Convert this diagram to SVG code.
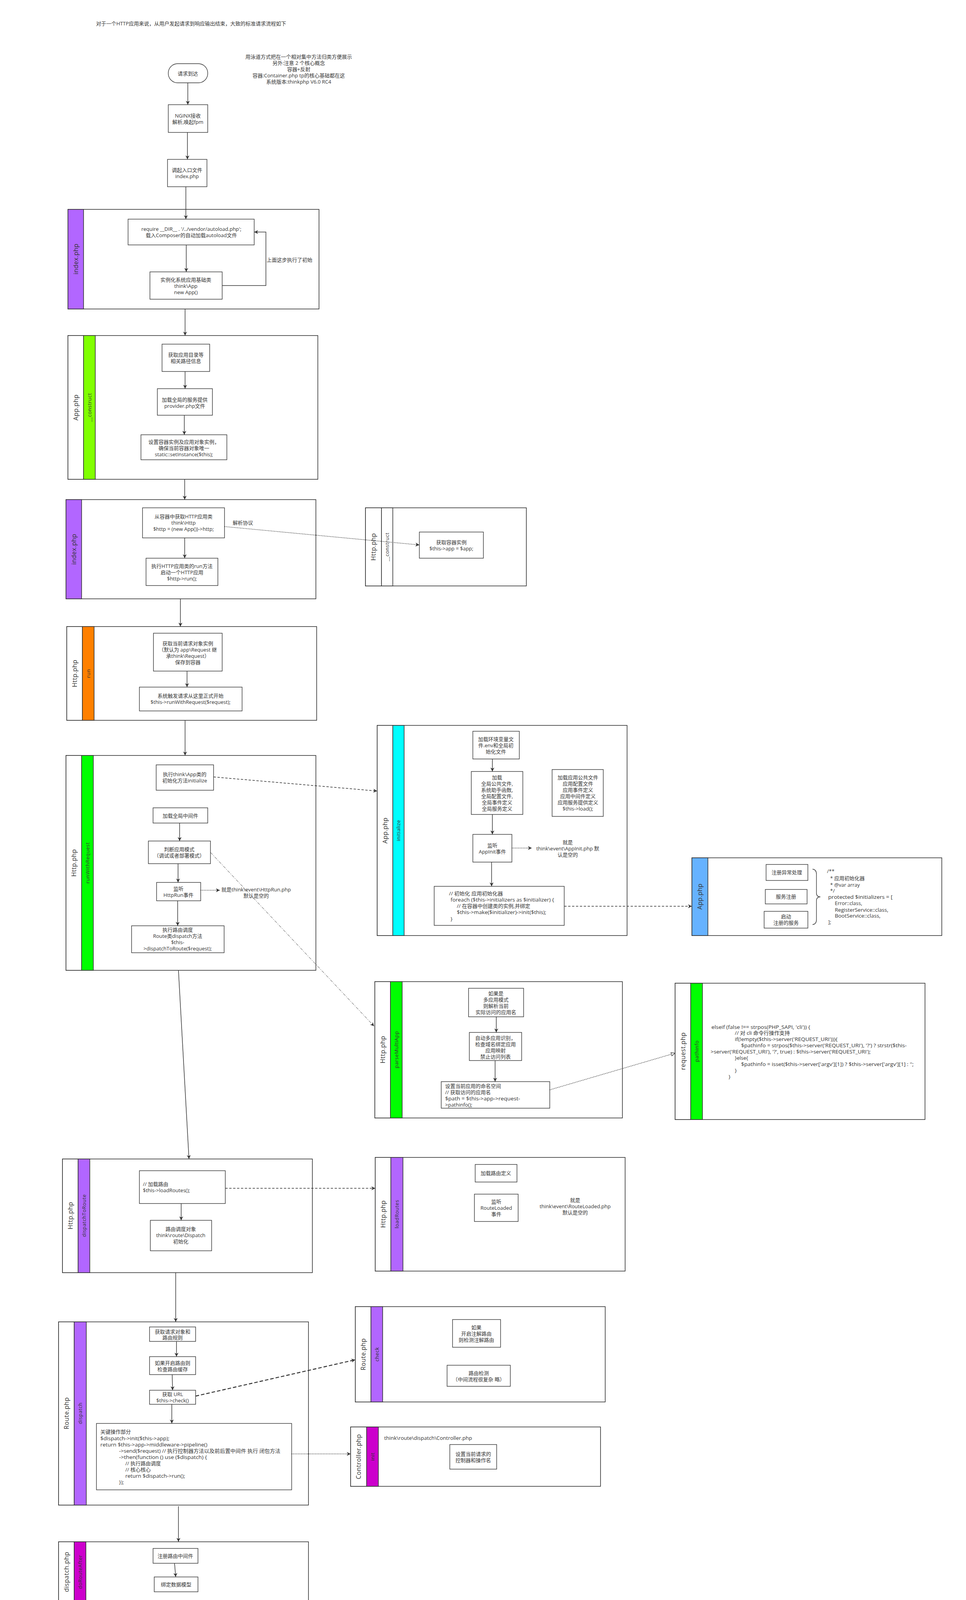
<svg xmlns="http://www.w3.org/2000/svg" width="2474" height="5723" viewBox="0 0 2474 5723">
<style>
.bg{fill:#ffffff}
.pool{fill:#ffffff;stroke:#333333;stroke-width:1.6}
.hd{stroke:#333333;stroke-width:1.6}
.box{fill:#ffffff;stroke:#333333;stroke-width:1.4}
.t{font-family:"Open Sans","Noto Sans CJK SC",sans-serif;font-size:13px;fill:#333333;text-anchor:middle;dominant-baseline:central}
.tl{font-family:"Open Sans","Noto Sans CJK SC",sans-serif;font-size:13px;fill:#333333;text-anchor:start;dominant-baseline:central}
.ph{font-family:"Open Sans","Noto Sans CJK SC",sans-serif;font-size:16px;fill:#333333;text-anchor:middle;dominant-baseline:central;letter-spacing:0.5px}
.ln{font-family:"Open Sans","Noto Sans CJK SC",sans-serif;font-size:13px;fill:#333333;text-anchor:middle;dominant-baseline:central;letter-spacing:0.5px}
.red{fill:#ff0000}
.e{fill:none;stroke:#333333;stroke-width:1.5}
.dash{stroke-dasharray:6 4}
.dot{stroke-dasharray:2 2}
.dd{stroke-dasharray:8 3 2 3;stroke-width:1}
.bold{stroke-width:2.4;stroke-dasharray:9 5}
</style>
<defs>
<marker id="arr" viewBox="0 0 10 10" refX="10" refY="5" markerWidth="10" markerHeight="10" markerUnits="userSpaceOnUse" orient="auto">
<path d="M0,0 L10,5 L0,10 L3,5 z" fill="#333333"/>
</marker>
<marker id="open" viewBox="0 0 10 10" refX="10" refY="5" markerWidth="11" markerHeight="11" markerUnits="userSpaceOnUse" orient="auto">
<path d="M1,1 L10,5 L1,9 z" fill="#ffffff" stroke="#333333" stroke-width="1.2"/>
</marker>
</defs>
<rect class="bg" x="0" y="0" width="2474" height="5723"/>

<g id="title">
<text class="tl" x="246" y="60">对于一个HTTP应用来说，从用户发起请求到响应输出结束，大致的标准请求流程如下</text>
</g>
<g id="note">
<text class="t"><tspan x="765" y="145">用泳道方式把在一个相对集中方法归类方便展示</tspan><tspan x="765" y="161">另外:注意 2 个核心概念</tspan><tspan x="765" y="177">容器+反射</tspan><tspan x="765" y="193">容器:Container.php tp的核心基础都在这</tspan><tspan x="765" y="209">系统版本:thinkphp V6.0 RC4</tspan></text>
</g>

<g id="start">
<rect class="box" x="431" y="163" width="101" height="49" rx="24" ry="24"/>
<text class="t" x="481" y="188">请求到达</text>
</g>
<g id="nginx">
<rect class="box" x="431" y="268" width="101" height="71"/>
<text class="t"><tspan x="481" y="296">NGINX接收</tspan><tspan x="481" y="312">解析,唤起fpm</tspan></text>
</g>
<g id="entry">
<rect class="box" x="429" y="408" width="101" height="70"/>
<text class="t"><tspan x="479" y="435">调起入口文件</tspan><tspan x="479" y="451">index.php</tspan></text>
</g>

<g id="pool-index-1">
<rect class="pool" x="174" y="536" width="643" height="255"/>
<rect class="hd" x="174" y="536" width="40" height="255" fill="#B266FF"/>
<text class="ph" transform="translate(194,663) rotate(-90)">index.php</text>
</g>
<g id="require">
<rect class="box" x="328" y="561" width="323" height="66"/>
<text class="t"><tspan x="490" y="586">require __DIR__ . '/../vendor/autoload.php';</tspan><tspan x="490" y="602">载入Composer的自动加载autoload文件</tspan></text>
</g>
<g id="newapp">
<rect class="box" x="384" y="696" width="185" height="70"/>
<text class="t"><tspan x="476" y="716">实例化系统应用基础类</tspan><tspan x="476" y="732">think\App</tspan><tspan x="476" y="748">new App()</tspan></text>
</g>

<g id="pool-app-construct">
<rect class="pool" x="174" y="859" width="640" height="368"/>
<rect class="hd" x="174" y="859" width="40" height="368" fill="#ffffff"/>
<rect class="hd" x="214" y="859" width="30" height="368" fill="#80FF00"/>
<text class="ph" transform="translate(194,1043) rotate(-90)">App.php</text>
<text class="ln" transform="translate(229,1043) rotate(-90)">__construct</text>
</g>
<g id="app-path">
<rect class="box" x="415" y="881" width="122" height="70"/>
<text class="t"><tspan x="476" y="908">获取应用目录等</tspan><tspan x="476" y="924">相关路径信息</tspan></text>
</g>
<g id="app-provider">
<rect class="box" x="403" y="995" width="141" height="68"/>
<text class="t"><tspan x="473" y="1023">加载全局的服务提供</tspan><tspan x="473" y="1039">provider.php文件</tspan></text>
</g>
<g id="app-instance">
<rect class="box" x="361" y="1113" width="220" height="64"/>
<text class="t"><tspan x="471" y="1131">设置容器实例及应用对象实例，</tspan><tspan x="471" y="1147">确保当前容器对象唯一</tspan><tspan x="471" y="1163">static::setInstance($this);</tspan></text>
</g>

<g id="pool-index-2">
<rect class="pool" x="169" y="1279" width="640" height="254"/>
<rect class="hd" x="169" y="1279" width="40" height="254" fill="#B266FF"/>
<text class="ph" transform="translate(189,1406) rotate(-90)">index.php</text>
</g>
<g id="get-http">
<rect class="box" x="365" y="1300" width="210" height="77"/>
<text class="t"><tspan x="470" y="1322">从容器中获取HTTP应用类</tspan><tspan x="470" y="1338">think\Http</tspan><tspan x="470" y="1354">$http = (new App())-&gt;http;</tspan></text>
</g>
<g id="http-run-call">
<rect class="box" x="374" y="1429" width="184" height="70"/>
<text class="t"><tspan x="466" y="1449">执行HTTP应用类的run方法</tspan><tspan x="466" y="1465">启动一个HTTP应用</tspan><tspan x="466" y="1481">$http-&gt;run();</tspan></text>
</g>

<g id="pool-http-construct">
<rect class="pool" x="936" y="1300" width="412" height="200"/>
<rect class="hd" x="936" y="1300" width="41" height="200" fill="#ffffff"/>
<rect class="hd" x="977" y="1300" width="29" height="200" fill="#ffffff"/>
<text class="ph" transform="translate(956,1400) rotate(-90)">Http.php</text>
<text class="ln" transform="translate(991,1400) rotate(-90)">__construct</text>
</g>
<g id="http-app">
<rect class="box" x="1074" y="1362" width="164" height="67"/>
<text class="t"><tspan x="1156" y="1388">获取容器实例</tspan><tspan x="1156" y="1404">$this-&gt;app   = $app;</tspan></text>
</g>

<g id="pool-http-run">
<rect class="pool" x="171" y="1604" width="640" height="240"/>
<rect class="hd" x="171" y="1604" width="40" height="240" fill="#ffffff"/>
<rect class="hd" x="211" y="1604" width="30" height="240" fill="#FF8000"/>
<text class="ph" transform="translate(191,1724) rotate(-90)">Http.php</text>
<text class="ln" transform="translate(226,1724) rotate(-90)">run</text>
</g>
<g id="get-request">
<rect class="box" x="393" y="1621" width="176" height="97"/>
<text class="t"><tspan x="481" y="1647">获取当前请求对象实例</tspan><tspan x="481" y="1663">（默认为 app\Request 继</tspan><tspan x="481" y="1679">承think\Request）</tspan><tspan x="481" y="1695">保存到容器</tspan></text>
</g>
<g id="run-with-request">
<rect class="box" x="357" y="1759" width="263" height="61"/>
<text class="t"><tspan x="488" y="1781">系统触发请求从这里正式开始</tspan><tspan x="488" y="1797">$this-&gt;runWithRequest($request);</tspan></text>
</g>

<g id="pool-http-runwithrequest">
<rect class="pool" x="169" y="1934" width="640" height="550"/>
<rect class="hd" x="169" y="1934" width="40" height="550" fill="#ffffff"/>
<rect class="hd" x="209" y="1934" width="30" height="550" fill="#00FF00"/>
<text class="ph" transform="translate(189,2209) rotate(-90)">Http.php</text>
<text class="ln" transform="translate(224,2209) rotate(-90)">runWithRequest</text>
</g>
<g id="app-initialize-call">
<rect class="box" x="400" y="1958" width="147" height="65"/>
<text class="t"><tspan x="473" y="1982">执行think\App类的</tspan><tspan x="473" y="1998">初始化方法initialize</tspan></text>
</g>
<g id="load-middleware">
<rect class="box" x="392" y="2068" width="140" height="39"/>
<text class="t" x="462" y="2088">加载全局中间件</text>
</g>
<g id="app-mode">
<rect class="box" x="380" y="2153" width="159" height="58"/>
<text class="t"><tspan x="459" y="2174">判断应用模式</tspan><tspan x="459" y="2190">（调试或者部署模式）</tspan></text>
</g>
<g id="httprun-event">
<rect class="box" x="401" y="2259" width="113" height="47"/>
<text class="t"><tspan x="457" y="2275">监听</tspan><tspan x="457" y="2291">HttpRun事件</tspan></text>
</g>
<g id="httprun-note">
<text class="t"><tspan x="656" y="2277">就是think\event\HttpRun.php</tspan><tspan x="656" y="2293">默认是空的</tspan></text>
</g>
<g id="dispatch-to-route-call">
<rect class="box" x="337" y="2370" width="237" height="69"/>
<text class="t"><tspan x="455" y="2380">执行路由调度</tspan><tspan x="455" y="2396">Route类dispatch方法</tspan><tspan x="455" y="2412">$this-</tspan><tspan x="455" y="2428">&gt;dispatchToRoute($request);</tspan></text>
</g>

<g id="pool-app-initialize">
<rect class="pool" x="966" y="1857" width="640" height="538"/>
<rect class="hd" x="966" y="1857" width="40" height="538" fill="#ffffff"/>
<rect class="hd" x="1006" y="1857" width="29" height="538" fill="#00FFFF"/>
<text class="ph" transform="translate(986,2126) rotate(-90)">App.php</text>
<text class="ln" transform="translate(1020,2126) rotate(-90)">initialize</text>
</g>
<g id="load-env">
<rect class="box" x="1211" y="1872" width="119" height="71"/>
<text class="t"><tspan x="1270" y="1892">加载环境变量文</tspan><tspan x="1270" y="1908">件.env和全局初</tspan><tspan x="1270" y="1924">始化文件</tspan></text>
</g>
<g id="load-global">
<rect class="box" x="1207" y="1975" width="132" height="110"/>
<text class="t"><tspan x="1273" y="1990">加载</tspan><tspan x="1273" y="2006">全局公共文件,</tspan><tspan x="1273" y="2022">系统助手函数,</tspan><tspan x="1273" y="2038">全局配置文件,</tspan><tspan x="1273" y="2054">全局事件定义</tspan><tspan x="1273" y="2070">全局服务定义</tspan></text>
</g>
<g id="load-app">
<rect class="box" x="1414" y="1970" width="131" height="120"/>
<text class="t"><tspan x="1480" y="1990">加载应用公共文件</tspan><tspan x="1480" y="2006">应用配置文件</tspan><tspan x="1480" y="2022">应用事件定义</tspan><tspan x="1480" y="2038">应用中间件定义</tspan><tspan x="1480" y="2054">应用服务提供定义</tspan><tspan x="1480" y="2070">$this-&gt;load();</tspan></text>
</g>
<g id="appinit-event">
<rect class="box" x="1211" y="2136" width="100" height="71"/>
<text class="t"><tspan x="1261" y="2164">监听</tspan><tspan x="1261" y="2180">AppInit事件</tspan></text>
</g>
<g id="appinit-note">
<text class="t"><tspan x="1454" y="2156">就是</tspan><tspan x="1454" y="2172">think\event\AppInit.php 默</tspan><tspan x="1454" y="2188">认是空的</tspan></text>
</g>
<g id="initializers">
<rect class="box" x="1112" y="2269" width="333" height="100"/>
<text class="tl"><tspan x="1150" y="2287" textLength="138" lengthAdjust="spacingAndGlyphs">// 初始化 应用初始化器</tspan><tspan x="1154" y="2303" textLength="265" lengthAdjust="spacingAndGlyphs">foreach ($this-&gt;initializers as $initializer) {</tspan><tspan x="1170" y="2319" textLength="188" lengthAdjust="spacingAndGlyphs">// 在容器中创建类的实例,并绑定</tspan><tspan x="1170" y="2335" textLength="229" lengthAdjust="spacingAndGlyphs">$this-&gt;make($initializer)-&gt;init($this);</tspan><tspan x="1154" y="2352">}</tspan></text>
</g>

<g id="pool-app-services">
<rect class="pool" x="1772" y="2196" width="640" height="199"/>
<rect class="hd" x="1772" y="2196" width="41" height="199" fill="#66B2FF"/>
<text class="ph" transform="translate(1792,2295) rotate(-90)">App.php</text>
</g>
<g id="svc-error">
<rect class="box" x="1962" y="2213" width="107" height="41"/>
<text class="t" x="2015" y="2233">注册异常处理</text>
</g>
<g id="svc-register">
<rect class="box" x="1960" y="2277" width="107" height="37"/>
<text class="t" x="2013" y="2295">服务注册</text>
</g>
<g id="svc-boot">
<rect class="box" x="1957" y="2333" width="112" height="43"/>
<text class="t"><tspan x="2013" y="2346">启动</tspan><tspan x="2013" y="2362">注册的服务</tspan></text>
</g>
<g id="svc-brace">
<path d="M2081,2225 Q2091,2226 2091,2238 L2091,2286 Q2091,2296 2101,2296 Q2091,2296 2091,2306 L2091,2354 Q2091,2366 2081,2367" fill="none" stroke="#333333" stroke-width="1.4"/>
</g>
<g id="svc-code">
<text class="tl"><tspan x="2118" y="2230">/**</tspan><tspan x="2126" y="2248">* 应用初始化器</tspan><tspan x="2126" y="2265" textLength="76" lengthAdjust="spacingAndGlyphs">* @var array</tspan><tspan x="2126" y="2280">*/</tspan><tspan x="2121" y="2296" textLength="165" lengthAdjust="spacingAndGlyphs">protected $initializers = [</tspan><tspan x="2138" y="2312" textLength="70" lengthAdjust="spacingAndGlyphs">Error::class,</tspan><tspan x="2138" y="2329" textLength="137" lengthAdjust="spacingAndGlyphs">RegisterService::class,</tspan><tspan x="2138" y="2344" textLength="117" lengthAdjust="spacingAndGlyphs">BootService::class,</tspan><tspan x="2121" y="2360">];</tspan></text>
</g>

<g id="pool-http-parsemultiapp">
<rect class="pool" x="960" y="2513" width="634" height="349"/>
<rect class="hd" x="960" y="2513" width="40" height="349" fill="#ffffff"/>
<rect class="hd" x="1000" y="2513" width="30" height="349" fill="#00FF00"/>
<text class="ph" transform="translate(980,2687) rotate(-90)">Http.php</text>
<text class="ln" transform="translate(1015,2687) rotate(-90)">parseMultiApp</text>
</g>
<g id="multi-app">
<rect class="box" x="1200" y="2530" width="141" height="73"/>
<text class="t"><tspan x="1270" y="2543">如果是</tspan><tspan x="1270" y="2559">多应用模式</tspan><tspan x="1270" y="2575">则解析当前</tspan><tspan x="1270" y="2591">实际访问的应用名</tspan></text>
</g>
<g id="auto-app">
<rect class="box" x="1202" y="2643" width="134" height="72"/>
<text class="t"><tspan x="1269" y="2657">自动多应用识别，</tspan><tspan x="1269" y="2673">检查域名绑定应用</tspan><tspan x="1269" y="2689">应用映射</tspan><tspan x="1269" y="2705">禁止访问列表</tspan></text>
</g>
<g id="app-namespace">
<rect class="box" x="1130" y="2769" width="278" height="68"/>
<text class="tl"><tspan x="1140" y="2780">设置当前应用的命名空间</tspan><tspan x="1140" y="2796">// 获取访问的应用名</tspan><tspan x="1140" y="2812" textLength="192" lengthAdjust="spacingAndGlyphs">$path = $this-&gt;app-&gt;request-</tspan><tspan x="1140" y="2828">&gt;pathinfo();</tspan></text>
</g>

<g id="pool-request-pathinfo">
<rect class="pool" x="1729" y="2517" width="640" height="349"/>
<rect class="hd" x="1729" y="2517" width="40" height="349" fill="#ffffff"/>
<rect class="hd" x="1769" y="2517" width="30" height="349" fill="#00FF00"/>
<text class="ph" transform="translate(1749,2691) rotate(-90)">request.php</text>
<text class="ln" transform="translate(1784,2691) rotate(-90)">pathinfo</text>
</g>
<g id="pathinfo-code">
<text class="tl"><tspan x="1822" y="2629" textLength="253" lengthAdjust="spacingAndGlyphs">elseif (false !== strpos(PHP_SAPI, 'cli')) {</tspan><tspan x="1882" y="2644" textLength="141" lengthAdjust="spacingAndGlyphs">// 对 cli 命令行操作支持</tspan><tspan x="1882" y="2660" textLength="263" lengthAdjust="spacingAndGlyphs">if(!empty($this-&gt;server('REQUEST_URI'))){</tspan><tspan x="1898" y="2676" textLength="424" lengthAdjust="spacingAndGlyphs">$pathinfo = strpos($this-&gt;server('REQUEST_URI'), '?') ? strstr($this-</tspan><tspan x="1820" y="2692" textLength="410" lengthAdjust="spacingAndGlyphs">&gt;server('REQUEST_URI'), '?', true) : $this-&gt;server('REQUEST_URI');</tspan><tspan x="1882" y="2708">}else{</tspan><tspan x="1898" y="2724" textLength="442" lengthAdjust="spacingAndGlyphs">$pathinfo = isset($this-&gt;server['argv'][1]) ? $this-&gt;server['argv'][1] : '';</tspan><tspan x="1882" y="2740">}</tspan><tspan x="1866" y="2756">}</tspan></text>
</g>

<g id="pool-http-dispatchtoroute">
<rect class="pool" x="160" y="2967" width="640" height="291"/>
<rect class="hd" x="160" y="2967" width="40" height="291" fill="#ffffff"/>
<rect class="hd" x="200" y="2967" width="30" height="291" fill="#B266FF"/>
<text class="ph" transform="translate(180,3112) rotate(-90)">Http.php</text>
<text class="ln" transform="translate(215,3112) rotate(-90)">dispatchToRoute</text>
</g>
<g id="load-routes-call">
<rect class="box" x="357" y="2997" width="220" height="84"/>
<text class="tl"><tspan x="366" y="3031">// 加载路由</tspan><tspan x="366" y="3047">$this-&gt;loadRoutes();</tspan></text>
</g>
<g id="dispatch-init">
<rect class="box" x="385" y="3124" width="157" height="78"/>
<text class="t"><tspan x="463" y="3146">路由调度对象</tspan><tspan x="463" y="3162">think\route\Dispatch</tspan><tspan x="463" y="3178">初始化</tspan></text>
</g>

<g id="pool-http-loadroutes">
<rect class="pool" x="961" y="2963" width="640" height="291"/>
<rect class="hd" x="961" y="2963" width="40" height="291" fill="#ffffff"/>
<rect class="hd" x="1001" y="2963" width="31" height="291" fill="#B266FF"/>
<text class="ph" transform="translate(981,3108) rotate(-90)">Http.php</text>
<text class="ln" transform="translate(1016,3108) rotate(-90)">loadRoutes</text>
</g>
<g id="route-define">
<rect class="box" x="1217" y="2981" width="107" height="45"/>
<text class="t" x="1270" y="3003">加载路由定义</text>
</g>
<g id="routeloaded-event">
<rect class="box" x="1215" y="3057" width="112" height="70"/>
<text class="t"><tspan x="1271" y="3076">监听</tspan><tspan x="1271" y="3092">RouteLoaded</tspan><tspan x="1271" y="3108">事件</tspan></text>
</g>
<g id="routeloaded-note">
<text class="t"><tspan x="1473" y="3072">就是</tspan><tspan x="1473" y="3088">think\event\RouteLoaded.php</tspan><tspan x="1473" y="3104">默认是空的</tspan></text>
</g>

<g id="pool-route-dispatch">
<rect class="pool" x="150" y="3384" width="640" height="469"/>
<rect class="hd" x="150" y="3384" width="40" height="469" fill="#ffffff"/>
<rect class="hd" x="190" y="3384" width="31" height="469" fill="#B266FF"/>
<text class="ph" transform="translate(170,3618) rotate(-90)">Route.php</text>
<text class="ln" transform="translate(205,3618) rotate(-90)">dispatch</text>
</g>
<g id="route-rules">
<rect class="box" x="383" y="3397" width="118" height="37"/>
<text class="t"><tspan x="442" y="3409">获取请求对象和</tspan><tspan x="442" y="3424">路由规则</tspan></text>
</g>
<g id="route-cache">
<rect class="box" x="383" y="3473" width="118" height="46"/>
<text class="t"><tspan x="442" y="3489">如果开启路由则</tspan><tspan x="442" y="3505">检查路由缓存</tspan></text>
</g>
<g id="route-check-call">
<rect class="box" x="383" y="3559" width="118" height="36"/>
<text class="t"><tspan x="442" y="3569">获取 URL</tspan><tspan x="442" y="3585">$this-&gt;check()</tspan></text>
</g>
<g id="route-key">
<rect class="box" x="247" y="3644" width="500" height="170"/>
<text class="tl"><tspan x="257" y="3665">关键操作部分</tspan><tspan x="257" y="3682" textLength="177" lengthAdjust="spacingAndGlyphs">$dispatch-&gt;init($this-&gt;app);</tspan><tspan x="257" y="3698" textLength="274" lengthAdjust="spacingAndGlyphs">return $this-&gt;app-&gt;middleware-&gt;pipeline()</tspan><tspan x="305" y="3714" textLength="413" lengthAdjust="spacingAndGlyphs">-&gt;send($request) // 执行控制器方法以及前后置中间件 执行 闭包方法</tspan><tspan x="305" y="3730" textLength="225" lengthAdjust="spacingAndGlyphs">-&gt;then(function () use ($dispatch) {</tspan><tspan x="321" y="3746">// 执行路由调度</tspan><tspan x="321" y="3762">// 核心核心</tspan><tspan x="321" y="3778" textLength="153" lengthAdjust="spacingAndGlyphs">return $dispatch-&gt;run();</tspan><tspan x="305" y="3794">});</tspan></text>
</g>

<g id="pool-route-check">
<rect class="pool" x="910" y="3345" width="640" height="244"/>
<rect class="hd" x="910" y="3345" width="40" height="244" fill="#ffffff"/>
<rect class="hd" x="950" y="3345" width="30" height="244" fill="#B266FF"/>
<text class="ph" transform="translate(930,3467) rotate(-90)">Route.php</text>
<text class="ln" transform="translate(965,3467) rotate(-90)">check</text>
</g>
<g id="annotation-route">
<rect class="box" x="1159" y="3378" width="123" height="71"/>
<text class="t"><tspan x="1220" y="3398">如果</tspan><tspan x="1220" y="3414">开启注解路由</tspan><tspan x="1220" y="3430">则检测注解路由</tspan></text>
</g>
<g id="route-detect">
<rect class="box" x="1145" y="3495" width="162" height="54"/>
<text class="t"><tspan x="1226" y="3515">路由检测</tspan><tspan x="1226" y="3531">（中间流程很复杂 略）</tspan></text>
</g>

<g id="pool-controller-init">
<rect class="pool" x="898" y="3653" width="640" height="152"/>
<rect class="hd" x="898" y="3653" width="41" height="152" fill="#ffffff"/>
<rect class="hd" x="939" y="3653" width="30" height="152" fill="#CC00CC"/>
<text class="ph" transform="translate(918,3729) rotate(-90)">Controller.php</text>
<text class="ln" transform="translate(954,3729) rotate(-90)">init</text>
</g>
<g id="controller-path">
<text class="tl" x="984" y="3681" textLength="225" lengthAdjust="spacingAndGlyphs">think\route\dispatch\Controller.php</text>
</g>
<g id="controller-action">
<rect class="box" x="1152" y="3698" width="120" height="63"/>
<text class="t"><tspan x="1212" y="3722">设置当前请求的</tspan><tspan x="1212" y="3738">控制器和操作名</tspan></text>
</g>

<g id="pool-dispatch-doRouteAfter">
<rect class="pool" x="150" y="3947" width="640" height="154"/>
<rect class="hd" x="150" y="3947" width="40" height="154" fill="#ffffff"/>
<rect class="hd" x="190" y="3947" width="30" height="154" fill="#CC00CC"/>
<text class="ph" transform="translate(170,4024) rotate(-90)">dispatch.php</text>
<text class="ln" transform="translate(205,4024) rotate(-90)">doRouteAfter</text>
</g>
<g id="route-middleware">
<rect class="box" x="392" y="3964" width="115" height="38"/>
<text class="t" x="449" y="3983">注册路由中间件</text>
</g>
<g id="bind-model">
<rect class="box" x="395" y="4037" width="112" height="38"/>
<text class="t" x="451" y="4056">绑定数据模型</text>
</g>

<g id="pool-dispatch-run">
<rect class="pool" x="146" y="4187" width="642" height="271"/>
<rect class="hd" x="146" y="4187" width="41" height="271" fill="#ffffff"/>
<rect class="hd" x="187" y="4187" width="31" height="271" fill="#CC00CC"/>
<text class="ph" transform="translate(166,4322) rotate(-90)">dispatch.php</text>
<text class="ln" transform="translate(202,4322) rotate(-90)">run</text>
</g>
<g id="route-param">
<rect class="box" x="383" y="4205" width="132" height="34"/>
<text class="t" x="449" y="4222">设置路由额外参数</text>
</g>
<g id="auto-validate">
<rect class="box" x="383" y="4269" width="138" height="34"/>
<text class="t" x="452" y="4286">执行数据自动验证</text>
</g>
<g id="exec">
<rect class="box" x="323" y="4333" width="264" height="115"/>
<text class="t"><tspan x="455" y="4343">执行</tspan><tspan x="455" y="4359">路由调度子类的exec方法</tspan><tspan x="455" y="4375">返回响应</tspan><tspan x="455" y="4391">think\Response对象</tspan><tspan x="455" y="4407" textLength="232" lengthAdjust="spacingAndGlyphs">// 这里是调用 Controller 类的对应方法</tspan><tspan x="455" y="4423">来完成 控制器的响应</tspan><tspan x="455" y="4439">$data = $this-&gt;exec();</tspan></text>
</g>

<g id="pool-controller-exec">
<rect class="pool" x="159" y="4550" width="641" height="271"/>
<rect class="hd" x="159" y="4550" width="41" height="271" fill="#ffffff"/>
<rect class="hd" x="200" y="4550" width="30" height="271" fill="#FF66B3"/>
<text class="ph" transform="translate(179,4685) rotate(-90)">Controller.php</text>
<text class="ln" transform="translate(215,4685) rotate(-90)">exec</text>
</g>
<g id="controller-instance">
<rect class="box" x="392" y="4560" width="114" height="62"/>
<text class="t"><tspan x="449" y="4584">获取当前请求的</tspan><tspan x="449" y="4600">控制器对象实例</tspan></text>
</g>
<g id="controller-middleware">
<rect class="box" x="389" y="4650" width="121" height="47"/>
<text class="t"><tspan x="449" y="4667">利用反射机制注</tspan><tspan x="449" y="4683">册控制器中间件</tspan></text>
</g>
<g id="controller-method">
<rect class="box" x="386" y="4730" width="128" height="69"/>
<text class="t"><tspan x="450" y="4757">执行控制器方法以</tspan><tspan x="450" y="4773">及前后置中间件</tspan></text>
</g>
<g id="business-note">
<rect x="612" y="4729" width="101" height="70" fill="#ffffff" stroke="#000000" stroke-width="2.4"/>
<text class="t red"><tspan x="663" y="4749">一般业务类</tspan><tspan x="663" y="4765">代码实现的内</tspan><tspan x="663" y="4781">容在这块处理</tspan></text>
</g>

<g id="pool-index-3">
<rect class="pool" x="160" y="4936" width="640" height="255"/>
<rect class="hd" x="160" y="4936" width="40" height="255" fill="#B266FF"/>
<text class="ph" transform="translate(180,5063) rotate(-90)">index.php</text>
</g>
<g id="response-send">
<rect class="box" x="340" y="4956" width="228" height="60"/>
<text class="t"><tspan x="454" y="4979">执行当前响应对象的send方法输出</tspan><tspan x="454" y="4995">$response-&gt;send();</tspan></text>
</g>
<g id="http-end-call">
<rect class="box" x="377" y="5061" width="137" height="72"/>
<text class="t"><tspan x="445" y="5089">执行HTTP应用对象</tspan><tspan x="445" y="5105">的end方法善后</tspan></text>
</g>

<g id="pool-http-end">
<rect class="pool" x="152" y="5360" width="640" height="300"/>
<rect class="hd" x="152" y="5360" width="40" height="300" fill="#ffffff"/>
<rect class="hd" x="192" y="5360" width="30" height="300" fill="#00FF00"/>
<text class="ph" transform="translate(172,5510) rotate(-90)">Http.php</text>
<text class="ln" transform="translate(207,5510) rotate(-90)">end</text>
</g>
<g id="httpend-event">
<rect class="box" x="407" y="5378" width="98" height="48"/>
<text class="t"><tspan x="456" y="5394">监听</tspan><tspan x="456" y="5410">HttpEnd事件</tspan></text>
</g>
<g id="middleware-end">
<rect class="box" x="383" y="5476" width="151" height="37"/>
<text class="t" x="458" y="5495">执行中间件的end回调</text>
</g>
<g id="write-log">
<rect class="box" x="408" y="5570" width="107" height="56"/>
<text class="t"><tspan x="461" y="5591">写入当前请求</tspan><tspan x="461" y="5607">的日志信息</tspan></text>
</g>

<g id="connectors">
<line class="e" x1="481" y1="212" x2="481" y2="268" marker-end="url(#arr)"/>
<line class="e" x1="480" y1="339" x2="480" y2="408" marker-end="url(#arr)"/>
<line class="e" x1="476" y1="478" x2="476" y2="561" marker-end="url(#arr)"/>
<line class="e" x1="477" y1="627" x2="477" y2="696" marker-end="url(#arr)"/>
<polyline class="e" points="569,731 681,731 681,594 651,594" marker-end="url(#arr)"/>
<text class="tl" x="683" y="665">上面这步执行了初始</text>
<line class="e" x1="474" y1="791" x2="474" y2="859" marker-end="url(#arr)"/>
<line class="e" x1="474" y1="951" x2="474" y2="995" marker-end="url(#arr)"/>
<line class="e" x1="472" y1="1063" x2="472" y2="1113" marker-end="url(#arr)"/>
<line class="e" x1="473" y1="1227" x2="473" y2="1279" marker-end="url(#arr)"/>
<line class="e" x1="473" y1="1377" x2="473" y2="1429" marker-end="url(#arr)"/>
<line class="e dot" x1="575" y1="1348" x2="1074" y2="1395" stroke-width="2" marker-end="url(#arr)"/>
<text class="t" x="622" y="1338">解析协议</text>
<line class="e" x1="462" y1="1533" x2="462" y2="1604" marker-end="url(#arr)"/>
<line class="e" x1="479" y1="1718" x2="479" y2="1759" marker-end="url(#arr)"/>
<line class="e" x1="474" y1="1844" x2="474" y2="1934" marker-end="url(#arr)"/>
<line class="e dash" x1="547" y1="1989" x2="966" y2="2025" stroke-width="1.2" marker-end="url(#arr)"/>
<line class="e" x1="460" y1="2107" x2="460" y2="2153" marker-end="url(#arr)"/>
<line class="e" x1="456" y1="2211" x2="456" y2="2259" marker-end="url(#arr)"/>
<line class="e dot" x1="514" y1="2279" x2="563" y2="2279" stroke-width="1.2" marker-end="url(#arr)"/>
<line class="e" x1="455" y1="2306" x2="455" y2="2370" marker-end="url(#arr)"/>
<line class="e dd" x1="539" y1="2182" x2="958" y2="2627" marker-end="url(#arr)"/>
<line class="e" x1="457" y1="2484" x2="484" y2="2967" marker-end="url(#arr)"/>
<line class="e" x1="1261" y1="1943" x2="1261" y2="1975" marker-end="url(#arr)"/>
<line class="e" x1="1261" y1="2085" x2="1261" y2="2136" marker-end="url(#arr)"/>
<line class="e dot" x1="1311" y1="2171" x2="1362" y2="2171" stroke-width="1.2" marker-end="url(#arr)"/>
<line class="e" x1="1259" y1="2207" x2="1259" y2="2269" marker-end="url(#arr)"/>
<line class="e dash" x1="1445" y1="2320" x2="1772" y2="2320" stroke-width="1.3" marker-end="url(#arr)"/>
<line class="e" x1="1271" y1="2603" x2="1271" y2="2643" marker-end="url(#arr)"/>
<line class="e" x1="1268" y1="2715" x2="1268" y2="2769" marker-end="url(#arr)"/>
<line class="e dot" x1="1408" y1="2790" x2="1729" y2="2696" stroke-width="1.6" marker-end="url(#open)"/>
<line class="e" x1="464" y1="3081" x2="464" y2="3124" marker-end="url(#arr)"/>
<line class="e dash" x1="577" y1="3042" x2="961" y2="3042" stroke-width="1.3" marker-end="url(#arr)"/>
<line class="e" x1="450" y1="3258" x2="450" y2="3384" marker-end="url(#arr)"/>
<line class="e" x1="452" y1="3434" x2="452" y2="3473" marker-end="url(#arr)"/>
<line class="e" x1="441" y1="3519" x2="442" y2="3559" marker-end="url(#arr)"/>
<line class="e" x1="440" y1="3595" x2="440" y2="3644" marker-end="url(#arr)"/>
<line class="e bold" x1="501" y1="3574" x2="910" y2="3481" marker-end="url(#arr)"/>
<line class="e dot" x1="747" y1="3722" x2="898" y2="3722" stroke-width="1.6" marker-end="url(#arr)"/>
<line class="e" x1="457" y1="3856" x2="457" y2="3947" marker-end="url(#arr)"/>
<line class="e" x1="447" y1="4002" x2="450" y2="4037" marker-end="url(#arr)"/>
<line class="e" x1="448" y1="4103" x2="448" y2="4187" marker-end="url(#arr)"/>
<line class="e" x1="433" y1="4239" x2="452" y2="4269" marker-end="url(#arr)"/>
<line class="e" x1="435" y1="4303" x2="466" y2="4333" marker-end="url(#arr)"/>
<line class="e" x1="428" y1="4461" x2="438" y2="4550" marker-end="url(#arr)"/>
<line class="e" x1="441" y1="4622" x2="448" y2="4650" marker-end="url(#arr)"/>
<line class="e" x1="438" y1="4697" x2="448" y2="4730" marker-end="url(#arr)"/>
<line class="e dot" x1="514" y1="4762" x2="610" y2="4762" stroke-width="2"/>
<line class="e" x1="421" y1="4821" x2="452" y2="4936" marker-end="url(#arr)"/>
<line class="e" x1="423" y1="5020" x2="443" y2="5061" marker-end="url(#arr)"/>
<line class="e" x1="436" y1="5191" x2="469" y2="5360" marker-end="url(#arr)"/>
<line class="e" x1="442" y1="5426" x2="456" y2="5476" marker-end="url(#arr)"/>
<line class="e" x1="450" y1="5513" x2="473" y2="5570" marker-end="url(#arr)"/>
</g>
</svg>
